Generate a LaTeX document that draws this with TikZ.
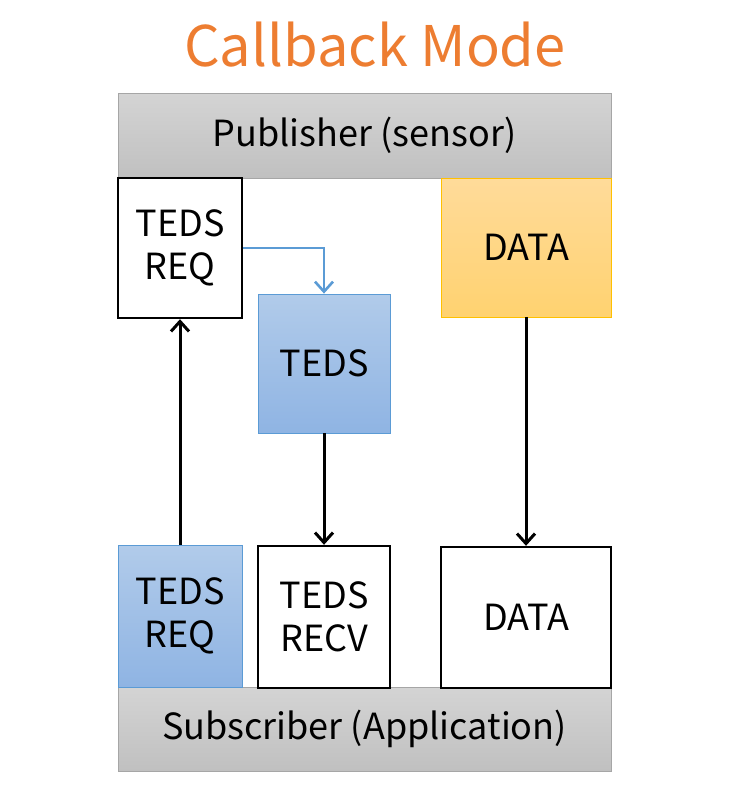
\documentclass[tikz,border=0pt]{standalone}
\usepackage{fontspec}
\setmainfont{Noto Sans CJK JP}
\usetikzlibrary{arrows.meta, positioning}
\definecolor{titleorange}{HTML}{ED7D31}
\definecolor{bargray}{HTML}{A6A6A6}
\definecolor{bartop}{HTML}{D4D4D4}
\definecolor{barbot}{HTML}{C0C0C0}
\definecolor{tedsblue}{HTML}{5B9BD5}
\definecolor{bluetop}{HTML}{B1CBEA}
\definecolor{bluebot}{HTML}{8FB4E3}
\definecolor{databorder}{HTML}{FFC000}
\definecolor{datatop}{HTML}{FFDB9A}
\definecolor{databot}{HTML}{FFD270}

\begin{document}
\begin{tikzpicture}[
    x=1pt, y=-1pt,
    txt/.style={font=\fontsize{36}{43}\selectfont, align=center, inner sep=0pt},
    bar/.style={txt, rectangle, draw=bargray, line width=0.8pt, top color=bartop, bottom color=barbot, minimum width=493pt},
    plainbox/.style={txt, rectangle, draw=black, line width=2.4pt, fill=white},
    bluebox/.style={txt, rectangle, draw=tedsblue, line width=0.8pt, top color=bluetop, bottom color=bluebot},
    databox/.style={txt, rectangle, draw=databorder, line width=0.8pt, top color=datatop, bottom color=databot},
    arrow/.style={line width=3pt, -{Straight Barb[length=10pt, width=18pt, line width=3pt]}},
    bluearrow/.style={draw=tedsblue, line width=2.6pt, -{Straight Barb[length=10pt, width=18pt, line width=2.6pt]}}
]
    \useasboundingbox (0,0) rectangle (741,809);

    \node[font=\fontsize{56}{60}\selectfont, text=titleorange] (title) at (375,45) {Callback Mode};

    \node[bar, minimum height=85pt] (pub) at (364.5,135.5) {Publisher (sensor)};
    \node[bar, minimum height=84pt] (sub) at (364.5,729) {Subscriber (Application)};

    \node[plainbox, minimum width=124pt, minimum height=140pt] (reqtop) at (180,248) {TEDS\\REQ};
    \node[databox, minimum width=170pt, minimum height=139pt] (datatop) at (526,247.5) {DATA};
    \node[bluebox, minimum width=132pt, minimum height=139pt] (teds) at (324,363.5) {TEDS};

    \node[bluebox, minimum width=124pt, minimum height=142pt] (reqbot) at (180,616) {TEDS\\REQ};
    \node[plainbox, minimum width=132pt, minimum height=142pt] (recv) at (324,617) {TEDS\\RECV};
    \node[plainbox, minimum width=170pt, minimum height=141pt] (databot) at (526,617.5) {DATA};

    \draw[bluearrow] (reqtop.east) -| (teds.north);
    \draw[arrow] (reqbot.north) -- (reqtop.south);
    \draw[arrow] (teds.south) -- (recv.north);
    \draw[arrow] (datatop.south) -- (databot.north);

\end{tikzpicture}
\end{document}
